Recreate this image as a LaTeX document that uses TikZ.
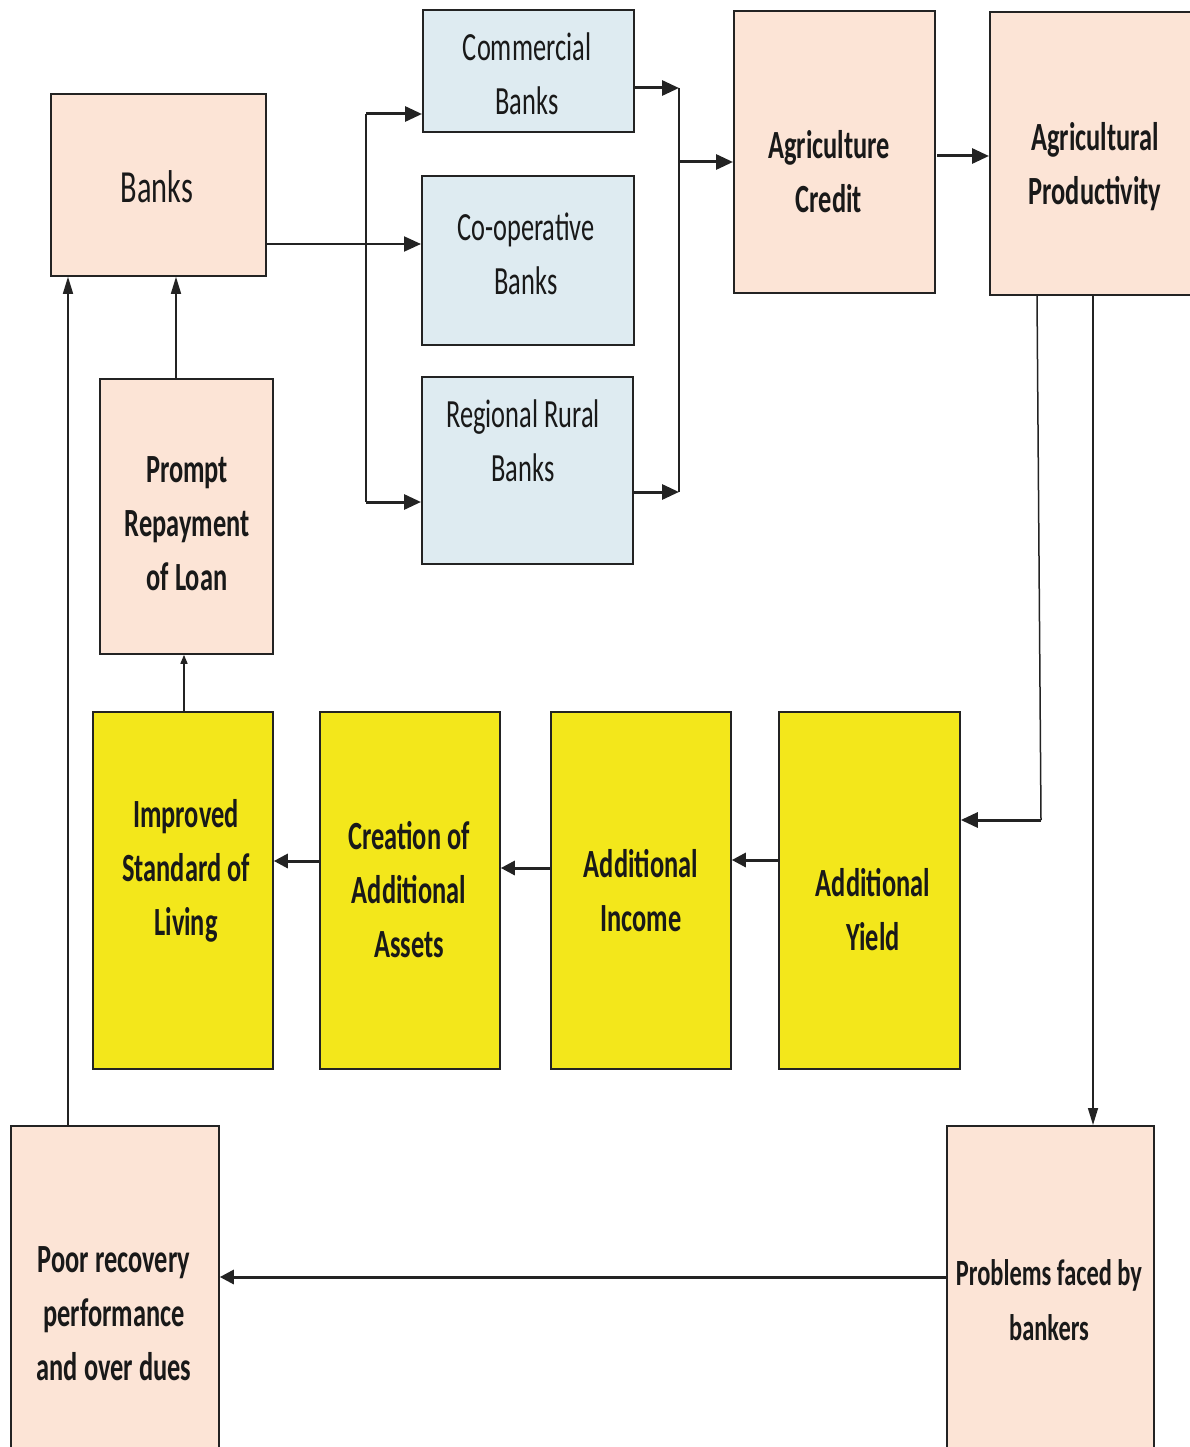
\documentclass[tikz,border=0pt]{standalone}
\usepackage{fontspec}
\setmainfont[FakeStretch=0.66]{Carlito}
\usetikzlibrary{arrows.meta}
\definecolor{peach}{RGB}{252,228,214}
\definecolor{lblue}{RGB}{222,235,241}
\definecolor{yel}{RGB}{243,231,27}
\definecolor{edge}{RGB}{35,35,35}
\begin{document}
\begin{tikzpicture}[x=1pt,y=-1pt,
  box/.style={draw=edge,line width=1.8pt,inner sep=0pt,anchor=north west},
  pbox/.style={box,fill=peach},
  bbox/.style={box,fill=lblue},
  ybox/.style={box,fill=yel},
  txt/.style={align=center,font=\fontsize{40}{54}\selectfont,text=black!90,inner sep=0pt},
  btxt/.style={txt,font=\fontsize{40}{54}\selectfont\bfseries},
  thinln/.style={line width=1.5pt,draw=edge},
  medln/.style={line width=2pt,draw=edge},
  thickln/.style={line width=3pt,draw=edge},
  bigtip/.style={-{Triangle[length=17pt,width=15pt]}},
  midtip/.style={-{Triangle[length=14pt,width=14pt]}},
  smalltip/.style={-{Triangle[length=17pt,width=10pt]}},
  tinytip/.style={-{Triangle[length=9pt,width=7pt]}}]
\useasboundingbox (0,0) rectangle (1189,1447);
\fill[white] (0,0) rectangle (1189,1447);

% boxes
\node[pbox,minimum width=215pt,minimum height=182pt] (bk) at (50,93) {};
\node[bbox,minimum width=211pt,minimum height=122pt] (cb) at (422,9) {};
\node[bbox,minimum width=212pt,minimum height=169pt] (cop) at (421,175) {};
\node[bbox,minimum width=211pt,minimum height=187pt] (rrb) at (421,376) {};
\node[pbox,minimum width=201pt,minimum height=282pt] (ac) at (733,10) {};
\node[pbox,minimum width=206pt,minimum height=283pt] (ap) at (989,11) {};
\node[pbox,minimum width=173pt,minimum height=275pt] (pr) at (99,378) {};
\node[ybox,minimum width=180pt,minimum height=357pt] (isl) at (92,711) {};
\node[ybox,minimum width=180pt,minimum height=357pt] (cr) at (319,711) {};
\node[ybox,minimum width=180pt,minimum height=357pt] (ai) at (550,711) {};
\node[ybox,minimum width=181pt,minimum height=357pt] (ay) at (778,711) {};
\node[pbox,minimum width=208pt,minimum height=332pt] (poor) at (10,1125) {};
\node[pbox,minimum width=207pt,minimum height=332pt] (prob) at (946,1125) {};

% texts
\node[txt,font=\fontsize{46}{54}\selectfont] (tbk) at (157,187) {Banks};
\node[txt] (tcb) at (527,74) {Commercial\\Banks};
\node[txt] (tcop) at (526,254) {Co-operative\\Banks};
\node[txt] (trrb) at (523,441) {Regional Rural\\Banks};
\node[btxt] (tac) at (829,172) {Agriculture\\Credit};
\node[btxt] (tap) at (1095,167) {Agricultural\\Productivity};
\node[btxt] (tpr) at (187,524) {Prompt\\Repayment\\of Loan};
\node[btxt] (tisl) at (186,871) {Improved\\Standard of\\Living};
\node[btxt] (tcr) at (409,890) {Creation of\\Additional\\Assets};
\node[btxt] (tai) at (641,891) {Additional\\Income};
\node[btxt] (tay) at (873,910) {Additional\\Yield};
\node[btxt] (tpoor) at (114,1314) {Poor recovery\\performance\\and over dues};
\node[btxt,font=\fontsize{37}{55}\selectfont\bfseries] (tprob) at (1049,1300) {Problems faced by\\bankers};

% junction coordinates
\coordinate (j1) at (366,244);
\coordinate (b1) at (366,114);
\coordinate (b2) at (366,502);
\coordinate (m1) at (679,88);
\coordinate (m2) at (679,492);
\coordinate (m3) at (679,162);
\coordinate (q) at (937,156);
\coordinate (d1) at (1037,0);
\coordinate (d2) at (1041,820);
\coordinate (d3) at (1093,0);
\coordinate (u1) at (176,375);
\coordinate (u2) at (68,0);
\coordinate (h1) at (0,860);
\coordinate (h2) at (0,868);
\coordinate (h3) at (0,861);
\coordinate (h4) at (0,1277);

% Banks to the three bank types
\draw[medln] (bk.east |- j1) -- (j1);
\draw[medln,bigtip] (j1) -- (cop.west |- j1);
\draw[medln] (b1) -- (b2);
\draw[thickln,bigtip] (b1) -- (cb.west |- b1);
\draw[thickln,bigtip] (b2) -- (rrb.west |- b2);

% merge to Agriculture Credit
\draw[thickln,bigtip] (cb.east |- m1) -- (m1);
\draw[thickln,bigtip] (rrb.east |- m2) -- (m2);
\draw[thinln] (m1) -- (m2);
\draw[thickln,bigtip] (m3) -- (ac.west |- m3);
\draw[thickln,bigtip] (q) -- (ap.west |- q);

% productivity to yield and problems
\draw[thinln] (ap.south -| d1) -- (d2);
\draw[thickln,bigtip] (d2) -- (ay.east |- d2);
\draw[thinln,smalltip] (ap.south -| d3) -- (prob.north -| d3);

% yellow chain
\draw[thickln,midtip] (ay.west |- h1) -- (ai.east |- h1);
\draw[thickln,midtip] (ai.west |- h2) -- (cr.east |- h2);
\draw[thickln,midtip] (cr.west |- h3) -- (isl.east |- h3);
\draw[thinln,tinytip] (isl.north -| 184,0) -- (pr.south -| 184,0);

% back to Banks
\draw[thinln,smalltip] (pr.north -| u1) -- (bk.south -| u1);
\draw[thinln,smalltip] (poor.north -| u2) -- (bk.south -| u2);
\draw[thickln,midtip] (prob.west |- h4) -- (poor.east |- h4);
\end{tikzpicture}
\end{document}
